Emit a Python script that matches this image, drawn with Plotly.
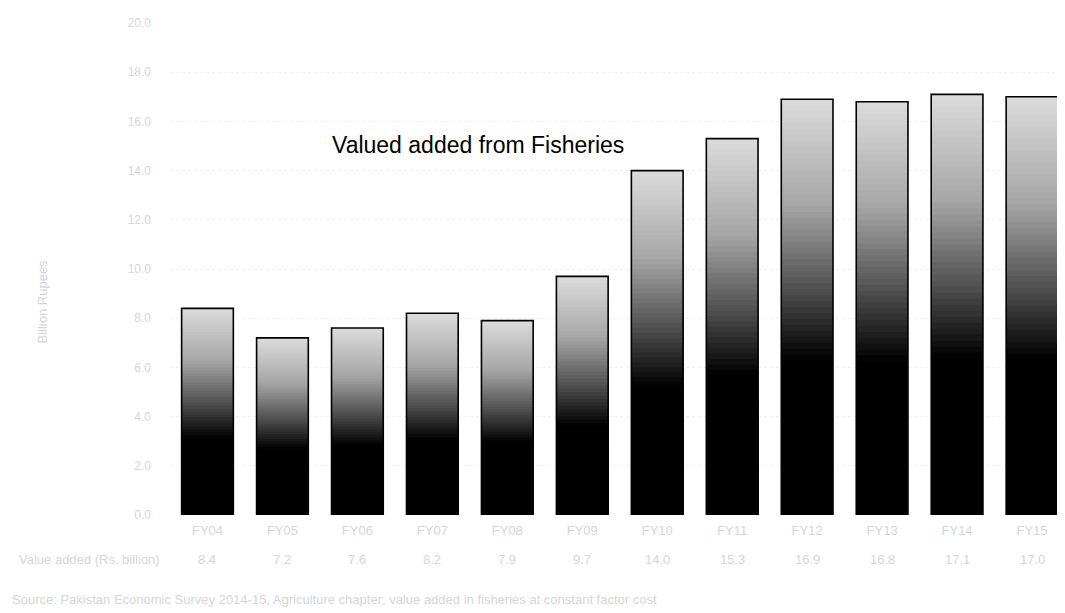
import plotly.graph_objects as go

categories = ["FY04", "FY05", "FY06", "FY07", "FY08", "FY09",
              "FY10", "FY11", "FY12", "FY13", "FY14", "FY15"]
values = [8.4, 7.2, 7.6, 8.2, 7.9, 9.7, 14.0, 15.3, 16.9, 16.8, 17.1, 17.0]
y_ticks = [0, 2, 4, 6, 8, 10, 12, 14, 16, 18, 20]
y_tick_labels = ["0.0", "2.0", "4.0", "6.0", "8.0", "10.0", "12.0",
                 "14.0", "16.0", "18.0", "20.0"]
title_text = "Valued added from Fisheries"
row_label = "Value added (Rs. billion)"
y_title = "Billion Rupees"
note_text = ("Source: Pakistan Economic Survey 2014-15, Agriculture chapter; "
             "value added in fisheries at constant factor cost")

FAINT = "#d6d6d6"
FONT = "Liberation Sans, Arial, sans-serif"

# gradient stops: (fraction of bar height, grey level)
stops = [(0.0, 0), (0.38, 0), (0.55, 80), (0.75, 165), (1.0, 218)]


def grey_at(f):
    for (f0, g0), (f1, g1) in zip(stops[:-1], stops[1:]):
        if f0 <= f <= f1:
            t = 0 if f1 == f0 else (f - f0) / (f1 - f0)
            g = int(round(g0 + t * (g1 - g0)))
            return f"rgb({g},{g},{g})"
    return "rgb(0,0,0)"


fig = go.Figure()
N = 70
BW = 0.69
for k in range(N, 0, -1):
    frac = k / N
    fig.add_trace(go.Bar(
        x=categories,
        y=[v * frac for v in values],
        width=BW,
        marker=dict(color=grey_at(frac), line=dict(width=0)),
        showlegend=False,
        hoverinfo="skip",
    ))

fig.add_trace(go.Bar(
    x=categories,
    y=values,
    width=BW,
    marker=dict(color="rgba(0,0,0,0)", line=dict(color="black", width=1.6)),
    showlegend=False,
))

# data-table value row
for c, v in zip(categories, values):
    fig.add_annotation(x=c, y=-0.091, xref="x", yref="paper",
                       xanchor="center", yanchor="middle",
                       text=f"{v:.1f}", showarrow=False,
                       font=dict(family=FONT, size=13, color=FAINT))
fig.add_annotation(x=-0.171, y=-0.091, xref="paper", yref="paper",
                   xanchor="left", yanchor="middle", text=row_label,
                   showarrow=False,
                   font=dict(family=FONT, size=13, color=FAINT))
fig.add_annotation(x=-0.179, y=-0.172, xref="paper", yref="paper",
                   xanchor="left", yanchor="middle", text=note_text,
                   showarrow=False,
                   font=dict(family=FONT, size=13, color=FAINT))
fig.add_annotation(x=-0.143, y=0.434, xref="paper", yref="paper",
                   xanchor="center", yanchor="middle",
                   text=y_title, textangle=-90, showarrow=False,
                   font=dict(family=FONT, size=13, color=FAINT))

fig.add_annotation(x=0.179, y=0.7515, xref="paper", yref="paper",
                   xanchor="left", yanchor="middle", text=title_text,
                   showarrow=False,
                   font=dict(family=FONT, size=23, color="black"))

fig.update_layout(
    width=1065, height=613,
    margin=dict(l=162, r=8, t=12, b=106),
    paper_bgcolor="white", plot_bgcolor="white",
    barmode="overlay",
    font=dict(family=FONT),
    xaxis=dict(range=[-0.5, 11.44], showgrid=False, showline=False,
               ticks="", ticklabelstandoff=6,
               tickfont=dict(size=13, color=FAINT)),
    yaxis=dict(range=[0, 20], tickvals=y_ticks, ticktext=y_tick_labels,
               showgrid=True, gridcolor="#f0f0f0", griddash="dot",
               zeroline=False, showline=False, ticks="",
               ticklabelstandoff=18,
               tickfont=dict(size=12, color=FAINT)),
)

fig.write_html("out.html")
